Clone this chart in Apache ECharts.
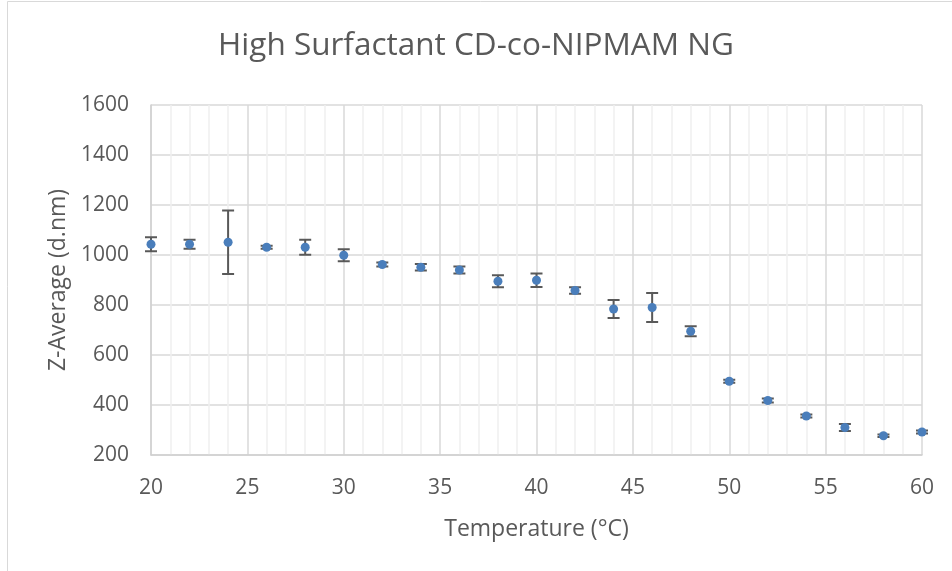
<!DOCTYPE html>
<html>
<head>
<meta charset="utf-8">
<script src="https://cdn.jsdelivr.net/npm/echarts@6/dist/echarts.min.js"></script>
<style>html,body{margin:0;padding:0;background:#fff}#c{width:952px;height:571px}</style>
</head>
<body>
<div id="c"></div>
<script>
const temperatures = [20,22,24,26,28,30,32,34,36,38,40,42,44,46,48,50,52,54,56,58,60];
const zAverage     = [1043,1043,1051,1031,1031,999,962,951,940,895,899,858,784,790,695,495,418,356,310,277,292];
const zError       = [28,18,127,6,30,24,8,13,14,24,27,13,36,58,20,6,8,6,14,5,6];
const xTicks = [20,25,30,35,40,45,50,55,60];
const yTicks = [200,400,600,800,1000,1200,1400,1600];

const FONT = '"Open Sans", "Noto Sans", sans-serif';
const TXT = '#595959';

const chart = echarts.init(document.getElementById('c'), null, {renderer:'canvas'});
const pts = temperatures.map((t,i)=>[t, zAverage[i]]);
const errData = temperatures.map((t,i)=>[t, zAverage[i]-zError[i], zAverage[i]+zError[i]]);

chart.setOption({
  animation:false,
  backgroundColor:'#fff',
  title:{
    text:'High Surfactant CD-co-NIPMAM NG',
    left:'center', top:25,
    textStyle:{fontFamily:FONT, fontSize:31.5, fontWeight:'normal', color:TXT}
  },
  grid:{left:151, right:30, top:105, bottom:116, containLabel:false},
  xAxis:{
    type:'value', min:xTicks[0], max:xTicks[xTicks.length-1], interval:5,
    name:'Temperature (°C)', nameLocation:'middle', nameGap:63,
    nameTextStyle:{fontFamily:FONT, fontSize:23, color:TXT},
    axisLine:{show:true, lineStyle:{color:'#d0d0d0', width:1.5}},
    axisTick:{show:false},
    axisLabel:{fontFamily:FONT, fontSize:21, color:TXT, margin:23, formatter:v=>String(v)},
    splitLine:{show:true, lineStyle:{color:'#d9d9d9', width:1.5}},
    minorTick:{show:false, splitNumber:5},
    minorSplitLine:{show:true, lineStyle:{color:'#efefef', width:1.5}}
  },
  yAxis:{
    type:'value', min:yTicks[0], max:yTicks[yTicks.length-1], interval:200,
    name:'Z-Average (d.nm)', nameLocation:'middle', nameGap:78,
    nameTextStyle:{fontFamily:FONT, fontSize:23, color:TXT},
    axisLine:{show:true, lineStyle:{color:'#d0d0d0', width:1.5}},
    axisTick:{show:false},
    axisLabel:{fontFamily:FONT, fontSize:21, color:TXT, margin:22, formatter:v=>String(v)},
    splitLine:{show:true, lineStyle:{color:'#d9d9d9', width:1.5}}
  },
  graphic:[
    {type:'rect', shape:{x:7.5, y:1.5, width:1000, height:700}, style:{fill:'none', stroke:'#d9d9d9', lineWidth:1}, silent:true}
  ],
  series:[
    {
      type:'custom',
      data:errData,
      z:2,
      renderItem:function(params, api){
        const x = api.value(0);
        const lo = api.coord([x, api.value(1)]);
        const hi = api.coord([x, api.value(2)]);
        const hw = 6;
        const st = {stroke:'#595959', lineWidth:2};
        return {type:'group', children:[
          {type:'line', shape:{x1:lo[0], y1:lo[1], x2:hi[0], y2:hi[1]}, style:st},
          {type:'line', shape:{x1:lo[0]-hw, y1:lo[1], x2:lo[0]+hw, y2:lo[1]}, style:st},
          {type:'line', shape:{x1:hi[0]-hw, y1:hi[1], x2:hi[0]+hw, y2:hi[1]}, style:st}
        ]};
      }
    },
    {
      type:'scatter',
      data:pts,
      z:3,
      symbol:'circle', symbolSize:9,
      itemStyle:{color:'#4a7ebb', opacity:1}
    }
  ]
});
</script>
</body>
</html>
